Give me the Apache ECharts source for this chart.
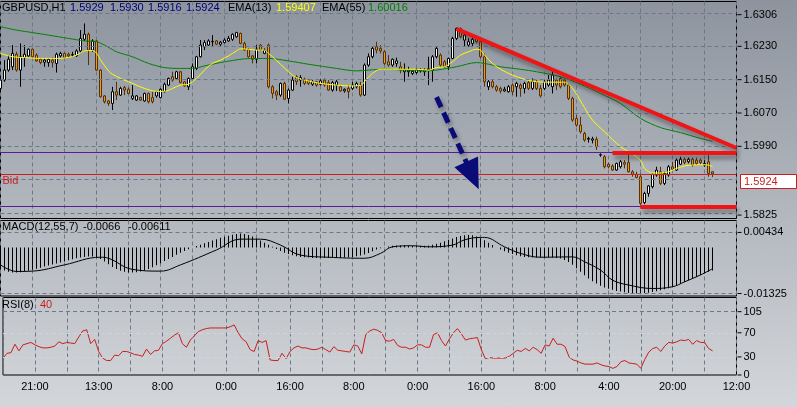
<!DOCTYPE html>
<html>
<head>
<meta charset="utf-8">
<script src="https://cdn.jsdelivr.net/npm/echarts@6/dist/echarts.min.js"></script>
<style>
html,body{margin:0;padding:0;width:797px;height:407px;overflow:hidden;}
body{background:linear-gradient(to bottom,#8d949e 0%,#b1b6bd 50%,#d3d6da 100%);}
#chart{width:797px;height:407px;}
</style>
</head>
<body>
<div id="chart"></div>
<script>
// ---------- DATA ----------
const labelIdx  = [8,24,40,56,72,88,104,120,136,152,168,184];
const labelText = ['21:00','13:00','8:00','0:00','16:00','8:00','0:00','16:00','8:00','4:00','20:00','12:00'];

// [open, close, low, high]
const candles = [
[1.6129,1.6149,1.6121,1.6153],[1.6149,1.6173,1.6145,1.6197],[1.6173,1.6199,1.6169,1.6209],[1.6181,1.6213,1.6173,1.6233],[1.6211,1.6173,1.6169,1.6217],
[1.6173,1.6205,1.6133,1.6237],[1.6203,1.6211,1.6181,1.6233],[1.6207,1.6223,1.6205,1.6225],[1.6223,1.6205,1.6203,1.6225],[1.6209,1.6195,1.6193,1.6213],
[1.6199,1.6191,1.6187,1.6201],[1.6192,1.6197,1.6181,1.6201],[1.6191,1.6199,1.6181,1.6201],[1.6197,1.6191,1.6179,1.6203],[1.6189,1.6211,1.6167,1.6215],
[1.6207,1.6213,1.6203,1.6217],[1.6213,1.6203,1.6201,1.6215],[1.6211,1.6207,1.6203,1.6215],[1.6209,1.6210,1.6205,1.6217],[1.6207,1.6219,1.6205,1.6223],
[1.6219,1.6249,1.6215,1.6269],[1.6247,1.6259,1.6243,1.6285],[1.6259,1.6221,1.6185,1.6263],[1.6221,1.6243,1.6217,1.6247],[1.6243,1.6173,1.6171,1.6245],
[1.6173,1.6109,1.6107,1.6175],[1.6111,1.6097,1.6093,1.6113],[1.6099,1.6093,1.6087,1.6101],[1.6093,1.6121,1.6077,1.6133],[1.6121,1.6113,1.6101,1.6145],
[1.6113,1.6129,1.6111,1.6133],[1.6131,1.6125,1.6113,1.6135],[1.6127,1.6117,1.6115,1.6131],[1.6105,1.6111,1.6101,1.6137],[1.6101,1.6111,1.6099,1.6113],
[1.6107,1.6101,1.6099,1.6109],[1.6099,1.6117,1.6097,1.6119],[1.6117,1.6097,1.6093,1.6119],[1.6107,1.6097,1.6093,1.6121],[1.6111,1.6121,1.6107,1.6123],
[1.6107,1.6127,1.6105,1.6129],[1.6121,1.6139,1.6119,1.6143],[1.6137,1.6153,1.6135,1.6155],[1.6157,1.6149,1.6145,1.6169],[1.6153,1.6169,1.6151,1.6171],
[1.6169,1.6143,1.6141,1.6171],[1.6145,1.6135,1.6133,1.6147],[1.6133,1.6153,1.6125,1.6155],[1.6153,1.6181,1.6151,1.6189],[1.6177,1.6205,1.6173,1.6207],
[1.6205,1.6233,1.6203,1.6245],[1.6229,1.6239,1.6221,1.6245],[1.6233,1.6243,1.6231,1.6247],[1.6241,1.6242,1.6229,1.6257],[1.6243,1.6235,1.6233,1.6245],
[1.6235,1.6240,1.6231,1.6243],[1.6239,1.6245,1.6237,1.6249],[1.6243,1.6249,1.6241,1.6255],[1.6247,1.6259,1.6243,1.6261],[1.6253,1.6263,1.6251,1.6265],
[1.6261,1.6237,1.6235,1.6263],[1.6237,1.6221,1.6219,1.6241],[1.6223,1.6205,1.6203,1.6225],[1.6207,1.6199,1.6189,1.6209],[1.6199,1.6223,1.6189,1.6233],
[1.6233,1.6221,1.6219,1.6235],[1.6213,1.6221,1.6211,1.6225],[1.6233,1.6133,1.6129,1.6237],[1.6133,1.6117,1.6105,1.6137],[1.6121,1.6113,1.6101,1.6125],
[1.6113,1.6141,1.6109,1.6143],[1.6141,1.6103,1.6101,1.6145],[1.6105,1.6125,1.6093,1.6129],[1.6125,1.6149,1.6123,1.6157],[1.6157,1.6145,1.6137,1.6161],
[1.6149,1.6155,1.6133,1.6161],[1.6151,1.6141,1.6137,1.6155],[1.6149,1.6141,1.6137,1.6152],[1.6139,1.6145,1.6135,1.6149],[1.6145,1.6137,1.6133,1.6147],
[1.6139,1.6147,1.6136,1.6151],[1.6149,1.6137,1.6133,1.6153],[1.6143,1.6125,1.6123,1.6149],[1.6125,1.6143,1.6121,1.6147],[1.6137,1.6145,1.6123,1.6149],
[1.6133,1.6123,1.6121,1.6136],[1.6123,1.6127,1.6119,1.6129],[1.6129,1.6121,1.6105,1.6137],[1.6129,1.6137,1.6125,1.6145],[1.6133,1.6141,1.6129,1.6145],
[1.6137,1.6113,1.6109,1.6145],[1.6113,1.6185,1.6111,1.6189],[1.6185,1.6205,1.6181,1.6213],[1.6205,1.6225,1.6201,1.6229],[1.6229,1.6221,1.6213,1.6241],
[1.6225,1.6219,1.6213,1.6233],[1.6217,1.6189,1.6185,1.6221],[1.6193,1.6185,1.6181,1.6209],[1.6185,1.6199,1.6181,1.6201],[1.6189,1.6195,1.6181,1.6203],
[1.6181,1.6173,1.6165,1.6193],[1.6169,1.6175,1.6145,1.6189],[1.6169,1.6173,1.6157,1.6181],[1.6165,1.6170,1.6161,1.6175],[1.6167,1.6175,1.6163,1.6177],
[1.6171,1.6174,1.6167,1.6177],[1.6169,1.6173,1.6159,1.6177],[1.6173,1.6176,1.6137,1.6205],[1.6173,1.6205,1.6145,1.6209],[1.6205,1.6225,1.6201,1.6229],
[1.6209,1.6185,1.6181,1.6213],[1.6193,1.6181,1.6179,1.6197],[1.6181,1.6201,1.6173,1.6203],[1.6201,1.6249,1.6199,1.6253],[1.6249,1.6273,1.6245,1.6275],
[1.6273,1.6253,1.6249,1.6275],[1.6245,1.6257,1.6229,1.6261],[1.6233,1.6241,1.6229,1.6249],[1.6237,1.6247,1.6231,1.6253],[1.6249,1.6241,1.6237,1.6257],
[1.6241,1.6205,1.6201,1.6245],[1.6205,1.6145,1.6133,1.6213],[1.6133,1.6145,1.6125,1.6149],[1.6145,1.6133,1.6129,1.6149],[1.6133,1.6125,1.6121,1.6137],
[1.6129,1.6123,1.6117,1.6133],[1.6123,1.6127,1.6121,1.6133],[1.6121,1.6133,1.6119,1.6137],[1.6137,1.6121,1.6113,1.6141],[1.6133,1.6141,1.6109,1.6145],
[1.6137,1.6129,1.6109,1.6141],[1.6129,1.6141,1.6117,1.6145],[1.6143,1.6129,1.6125,1.6149],[1.6129,1.6145,1.6125,1.6153],[1.6145,1.6129,1.6125,1.6149],
[1.6129,1.6111,1.6107,1.6137],[1.6129,1.6145,1.6125,1.6149],[1.6137,1.6149,1.6133,1.6161],[1.6133,1.6161,1.6117,1.6173],[1.6149,1.6137,1.6125,1.6153],
[1.6153,1.6133,1.6129,1.6157],[1.6149,1.6137,1.6133,1.6153],[1.6137,1.6105,1.6101,1.6141],[1.6105,1.6053,1.6049,1.6109],[1.6057,1.6041,1.6037,1.6065],
[1.6041,1.6025,1.6021,1.6061],[1.6021,1.6005,1.6001,1.6025],[1.6007,1.6009,1.5999,1.6013],[1.6005,1.6008,1.5997,1.6013],[1.6007,1.5989,1.5981,1.6013],
[1.5969,1.5970,1.5965,1.5973],[1.5965,1.5941,1.5937,1.5969],[1.5947,1.5941,1.5937,1.5951],[1.5943,1.5933,1.5931,1.5947],[1.5933,1.5949,1.5931,1.5951],
[1.5941,1.5953,1.5937,1.5957],[1.5951,1.5947,1.5937,1.5957],[1.5951,1.5929,1.5927,1.5973],[1.5929,1.5923,1.5917,1.5933],[1.5923,1.5915,1.5913,1.5929],
[1.5917,1.5853,1.5849,1.5925],[1.5855,1.5877,1.5851,1.5881],[1.5877,1.5895,1.5869,1.5897],[1.5893,1.5923,1.5889,1.5925],[1.5921,1.5933,1.5917,1.5941],
[1.5929,1.5901,1.5897,1.5941],[1.5901,1.5925,1.5897,1.5929],[1.5921,1.5941,1.5917,1.5945],[1.5941,1.5935,1.5933,1.5953],[1.5933,1.5957,1.5931,1.5961],
[1.5947,1.5959,1.5945,1.5965],[1.5959,1.5951,1.5947,1.5963],[1.5953,1.5959,1.5949,1.5963],[1.5959,1.5945,1.5941,1.5963],[1.5957,1.5949,1.5945,1.5963],
[1.5957,1.5951,1.5947,1.5961],[1.5945,1.5949,1.5941,1.5957],[1.5953,1.5925,1.5917,1.5969],[1.5929,1.5924,1.5916,1.5930]
];

// EMA readings [bar index, value]
const ema13 = [[0,1.6213],[3,1.6205],[6,1.6203],[10,1.6201],[14,1.6201],[17,1.6203],[19,1.6209],[21,1.6219],[23,1.6220],[24,1.6214],[25,1.6197],[26,1.6184],[27,1.6171],[28,1.6163],[30,1.6153],[33,1.6141],[36,1.6129],[39,1.6122],[41,1.6122],[43,1.6129],[45,1.6137],[47,1.6139],[49,1.6153],[51,1.6173],[53,1.6189],[55,1.6197],[57,1.6207],[59,1.6219],[60,1.6224],[62,1.6223],[64,1.6221],[66,1.6221],[67,1.6213],[68,1.6205],[70,1.6187],[72,1.6169],[74,1.6155],[77,1.6147],[80,1.6141],[84,1.6137],[88,1.6135],[90,1.6136],[91,1.6145],[93,1.6165],[95,1.6175],[98,1.6175],[101,1.6175],[104,1.6175],[107,1.6173],[109,1.6179],[111,1.6181],[113,1.6193],[115,1.6209],[117,1.6217],[119,1.6223],[120,1.6221],[121,1.6209],[123,1.6189],[125,1.6175],[128,1.6161],[131,1.6151],[134,1.6145],[138,1.6144],[141,1.6144],[143,1.6129],[146,1.6083],[148,1.6053],[151,1.6025],[155,1.5989],[157,1.5977],[160,1.5957],[161,1.5937],[163,1.5926],[165,1.5926],[167,1.5929],[169,1.5937],[171,1.5943],[173,1.5945],[175,1.5946],[177,1.5945],[178,1.5941]];
const ema55 = [[0,1.6277],[4,1.6269],[8,1.6263],[12,1.6257],[17,1.6249],[21,1.6243],[24,1.6241],[26,1.6233],[29,1.6217],[33,1.6205],[37,1.6189],[41,1.6179],[45,1.6177],[48,1.6177],[51,1.6183],[55,1.6191],[58,1.6196],[61,1.6200],[67,1.6201],[72,1.6195],[77,1.6187],[84,1.6177],[89,1.6171],[92,1.6173],[96,1.6175],[101,1.6173],[106,1.6171],[109,1.6173],[114,1.6181],[119,1.6191],[121,1.6189],[125,1.6181],[130,1.6175],[134,1.6169],[140,1.6157],[145,1.6139],[150,1.6117],[155,1.6093],[160,1.6057],[165,1.6035],[170,1.6023],[175,1.6009],[178,1.6002]];

const macdHist = [
-0.0060,-0.0066,-0.0070,-0.0072,-0.0072,-0.0071,-0.0069,-0.0067,-0.0064,-0.0061,
-0.0058,-0.0055,-0.0052,-0.0049,-0.0046,-0.0043,-0.0040,-0.0037,-0.0034,-0.0031,
-0.0029,-0.0027,-0.0026,-0.0026,-0.0028,-0.0033,-0.0040,-0.0048,-0.0056,-0.0062,
-0.0067,-0.0070,-0.0072,-0.0072,-0.0071,-0.0069,-0.0066,-0.0062,-0.0057,-0.0051,
-0.0045,-0.0039,-0.0033,-0.0027,-0.0021,-0.0015,-0.0010,-0.0005,0.0000,0.0004,
0.0008,0.0012,0.0016,0.0020,0.0024,0.0028,0.0031,0.0034,0.0037,0.0039,
0.0040,0.0039,0.0036,0.0032,0.0026,0.0020,0.0014,0.0008,0.0002,-0.0004,
-0.0010,-0.0015,-0.0019,-0.0022,-0.0025,-0.0027,-0.0028,-0.0029,-0.0030,-0.0030,
-0.0030,-0.0030,-0.0030,-0.0030,-0.0030,-0.0030,-0.0029,-0.0028,-0.0027,-0.0025,
-0.0023,-0.0020,-0.0016,-0.0011,-0.0006,-0.0002,0.0001,0.0003,0.0005,0.0006,
0.0006,0.0006,0.0006,0.0005,0.0005,0.0005,0.0005,0.0006,0.0008,0.0011,
0.0014,0.0018,0.0022,0.0026,0.0030,0.0033,0.0035,0.0036,0.0035,0.0032,
0.0027,0.0021,0.0014,0.0007,0.0000,-0.0006,-0.0011,-0.0015,-0.0019,-0.0022,
-0.0025,-0.0027,-0.0028,-0.0029,-0.0029,-0.0029,-0.0029,-0.0029,-0.0029,-0.0030,
-0.0032,-0.0036,-0.0042,-0.0050,-0.0060,-0.0070,-0.0080,-0.0089,-0.0097,-0.0104,
-0.0110,-0.0115,-0.0119,-0.0122,-0.0125,-0.0127,-0.0129,-0.0131,-0.0132,-0.01325,
-0.0132,-0.0131,-0.0130,-0.0128,-0.0126,-0.0123,-0.0120,-0.0117,-0.0113,-0.0109,
-0.0104,-0.0099,-0.0094,-0.0089,-0.0084,-0.0079,-0.0074,-0.0070,-0.0066
];
const macdSignal = [[0,-0.0050],[4,-0.0069],[8,-0.0068],[16,-0.0050],[25,-0.0028],[27,-0.0031],[33,-0.0063],[40,-0.0068],[45,-0.0050],[54,-0.0007],[60,0.0024],[65,0.0024],[70,0.0007],[75,-0.0022],[82,-0.0028],[91,-0.0031],[95,-0.0017],[98,0.0002],[103,0.0005],[107,0.0002],[113,0.0007],[116,0.0022],[120,0.0029],[121,0.0029],[126,0.0002],[130,-0.0017],[135,-0.0028],[143,-0.0027],[146,-0.0041],[150,-0.0065],[153,-0.0094],[157,-0.0108],[163,-0.0118],[168,-0.0113],[171,-0.0099],[175,-0.0079],[178,-0.0061]];

const rsi = [
28,36,37,51,40,50,52,54,50,47, 45,45,46,48,55,52,54,53,52,63,
73,75,52,59,39,28,24,24,33,32, 39,39,37,34,33,31,43,34,40,41,
52,56,61,66,70,52,46,58,65,72, 75,77,78,78,78,78,78,80,83,70,
60,55,42,39,57,54,57,25,24,24, 36,27,39,45,48,45,45,43,42,43,
46,42,38,47,41,40,39,38,50,48, 35,67,73,76,74,70,57,56,59,49,
46,46,43,45,50,50,46,46,67,70, 57,48,60,70,77,68,58,60,61,62,
42,27,29,28,28,28,28,31,36,41, 39,44,40,46,42,36,50,48,61,51,
51,47,30,25,23,20,18,18,18,20, 17,15,14,11,14,22,24,20,19,18,
11,26,38,44,46,39,48,54,53,55, 58,57,59,51,57,54,54,44,40
];

const priceGrid  = [1.6310,1.6230,1.6150,1.6070,1.5990,1.5910,1.5830];
const priceTicks = [1.6306,1.6230,1.6150,1.6070,1.5990,1.5825];
const bidPrice   = 1.5924;
const levelLines = [1.5976,1.5846];
const macdTicks  = [0.00434,-0.01325];
const rsiGrid    = [105];
const rsiLevels  = [70,30];
const rsiTicks   = [105,70,30,0];
const trendLines = [[[114,1.6272],[184,1.5986]],[[153,1.5975],[184,1.5975]],[[160,1.5845],[184,1.5845]]];
const arrowLine  = [[109,1.6108],[118,1.5920]];

// ---------- CHART ----------
const FONT = '"Liberation Sans", Arial, sans-serif';
const N = 185;
const cats = Array.from({length:N}, (_, i) => String(i));
const labelMap = {};
labelIdx.forEach((k, j) => { labelMap[k] = labelText[j]; });
const gridLine = {color:'#6c7888', type:[4,3], width:1};

function xAxisFor(gi, withLabels){
  return {
    type:'category', gridIndex:gi, data:cats, boundaryGap:false,
    axisLine:{show:false}, axisTick:{show:false},
    axisLabel: withLabels ? {show:true, interval:0, formatter:(v)=>labelMap[+v]||'', color:'#000', fontSize:11, fontFamily:FONT, margin:6} : {show:false},
    splitLine:{show:true, interval:(i)=>i%8===0, lineStyle:gridLine}
  };
}
function tickLabel(v, txt){
  return {yAxis:v, lineStyle:{color:'rgba(0,0,0,0)', width:0},
    label:{show:true, position:'end', distance:1, formatter:'{t|}{v|' + txt + '}',
      rich:{t:{width:4, height:1, backgroundColor:'#000'}, v:{color:'#000', fontSize:11, fontFamily:FONT, padding:[0,0,0,2]}}}};
}
const redStyle = {color:'#f01414', width:4, type:'solid', shadowColor:'rgba(30,30,30,0.45)', shadowBlur:4, shadowOffsetX:2, shadowOffsetY:4};
const arrowStyle = {color:'#0b0b78', width:5, type:[11,6], shadowColor:'rgba(30,30,30,0.4)', shadowBlur:4, shadowOffsetX:2, shadowOffsetY:3};
const ML = {silent:true, animation:false, precision:6, symbol:['none','none'], label:{show:false}};

const chart = echarts.init(document.getElementById('chart'), null, {renderer:'canvas'});

function headerText(txt, x, y, color){
  return {type:'text', x:x, y:y, z:100, silent:true, style:{text:txt, fill:color, font:'11px ' + FONT, verticalAlign:'middle', textVerticalAlign:'middle'}};
}

const option = {
  animation:false,
  backgroundColor:'transparent',
  grid:[
    {left:0.5, top:1.5, width:736, height:217, show:true, borderColor:'#000', borderWidth:1, backgroundColor:'transparent'},
    {left:0.5, top:220.5, width:736, height:75.5, show:true, borderColor:'#000', borderWidth:1, backgroundColor:'transparent'},
    {left:0.5, top:297.5, width:736, height:77.5, show:true, borderColor:'#000', borderWidth:1, backgroundColor:'transparent'}
  ],
  xAxis:[xAxisFor(0,false), xAxisFor(1,false), xAxisFor(2,true)],
  yAxis:[
    {type:'value', gridIndex:0, min:1.58168, max:1.63376, show:false},
    {type:'value', gridIndex:1, min:-0.013968, max:0.007776, show:false},
    {type:'value', gridIndex:2, min:0, max:128.5, show:false}
  ],
  series:[
    {type:'line', xAxisIndex:0, yAxisIndex:0, data:[], z:1, silent:true,
      markLine:Object.assign({}, ML, {
        data:[
          ...priceGrid.map(v=>({yAxis:v, lineStyle:gridLine})),
          ...priceTicks.map(v=>tickLabel(v, v.toFixed(4))),
          ...levelLines.map(v=>({yAxis:v, lineStyle:{color:'#5b1a9c', width:1, type:'solid'}})),
          {yAxis:bidPrice, lineStyle:{color:'#cc1f1f', width:1, type:'solid'},
            label:{show:true, position:'insideStartBottom', formatter:'Bid', color:'#cc1f1f', fontSize:11, fontFamily:FONT, distance:2}}
        ]})},
    {type:'candlestick', xAxisIndex:0, yAxisIndex:0, data:candles, barWidth:3, z:2,
      itemStyle:{color:'#ffffff', color0:'#e89b1c', borderColor:'#000000', borderColor0:'#5a3008', borderWidth:1}},
    {type:'line', xAxisIndex:0, yAxisIndex:0, data:ema55, smooth:0.3, showSymbol:false, z:3, lineStyle:{color:'#008000', width:1}},
    {type:'line', xAxisIndex:0, yAxisIndex:0, data:ema13, smooth:0.3, showSymbol:false, z:3, lineStyle:{color:'#ffff00', width:1}},
    {type:'line', xAxisIndex:0, yAxisIndex:0, data:[], z:5, silent:true,
      markLine:Object.assign({}, ML, {
        data:[
          ...trendLines.map(s=>[{coord:s[0], lineStyle:redStyle},{coord:s[1]}]),
          [{coord:arrowLine[0], lineStyle:arrowStyle},{coord:arrowLine[1], symbol:'triangle', symbolSize:[26,30]}]
        ]})},
    // MACD
    {type:'line', xAxisIndex:1, yAxisIndex:1, data:[], z:1, silent:true,
      markLine:Object.assign({}, ML, {
        data:[
          ...macdTicks.map(v=>({yAxis:v, lineStyle:gridLine})),
          ...macdTicks.map(v=>tickLabel(v, String(v)))
        ]})},
    {type:'bar', xAxisIndex:1, yAxisIndex:1, data:macdHist, barWidth:1, z:2, itemStyle:{color:'#000'}},
    {type:'line', xAxisIndex:1, yAxisIndex:1, data:macdSignal, smooth:0.4, showSymbol:false, z:3, lineStyle:{color:'#000', width:1}},
    // RSI
    {type:'line', xAxisIndex:2, yAxisIndex:2, data:[], z:1, silent:true,
      markLine:Object.assign({}, ML, {
        data:[
          ...rsiGrid.map(v=>({yAxis:v, lineStyle:gridLine})),
          ...rsiLevels.map(v=>({yAxis:v, lineStyle:{color:'#d2d4d8', type:[4,3], width:1}})),
          ...rsiTicks.map(v=>tickLabel(v, String(v)))
        ]})},
    {type:'line', xAxisIndex:2, yAxisIndex:2, data:rsi, showSymbol:false, z:3, lineStyle:{color:'#c81e1e', width:1}}
  ]
};
chart.setOption(option);

const bidY = Math.round(chart.convertToPixel({xAxisIndex:0, yAxisIndex:0}, [184, bidPrice])[1]);
chart.setOption({
  graphic:[
    headerText('GBPUSD,H1', 2, 8, '#000'),
    headerText('1.5929', 70, 8, '#00007a'),
    headerText('1.5930', 110, 8, '#00007a'),
    headerText('1.5916', 148, 8, '#00007a'),
    headerText('1.5924', 186, 8, '#00007a'),
    headerText('EMA(13)', 228, 8, '#000'),
    headerText('1.59407', 276, 8, '#ffff00'),
    headerText('EMA(55)', 322, 8, '#000'),
    headerText('1.60016', 368, 8, '#008000'),
    headerText('MACD(12,55,7)', 2, 227, '#000'),
    headerText('-0.0066', 83, 227, '#000'),
    headerText('-0.00611', 128, 227, '#000'),
    headerText('RSI(8)', 2, 305, '#000'),
    headerText('40', 40, 305, '#c81e1e'),
    {type:'rect', z:100, silent:true, shape:{x:740.5, y:bidY + 0.5, width:56, height:14}, style:{fill:'#ffffff', stroke:'#c81e1e', lineWidth:1}},
    {type:'text', z:101, silent:true, x:744, y:bidY + 8, style:{text:bidPrice.toFixed(4), fill:'#c81e1e', font:'11px ' + FONT, verticalAlign:'middle', textVerticalAlign:'middle'}}
  ]
});
</script>
</body>
</html>
